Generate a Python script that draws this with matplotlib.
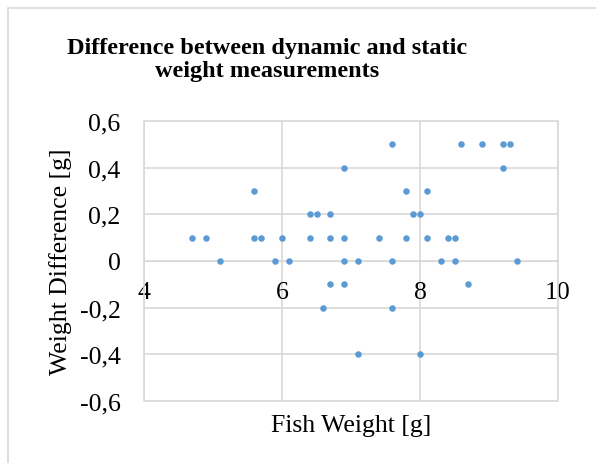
import matplotlib
matplotlib.use("Agg")
import matplotlib.pyplot as plt
from matplotlib.patches import Rectangle
from matplotlib.ticker import FuncFormatter

# data, grouped by difference value
fish_weight = [7.6, 8.6, 8.9, 9.2, 9.3,
               6.9, 9.2,
               5.6, 7.8, 8.1,
               6.4, 6.5, 6.7, 7.9, 8.0,
               4.7, 4.9, 5.6, 5.7, 6.0, 6.4, 6.7, 6.9, 7.4, 7.8, 8.1, 8.4, 8.5,
               5.1, 5.9, 6.1, 6.9, 7.1, 7.6, 8.3, 8.5, 9.4,
               6.7, 6.9, 8.7,
               6.6, 7.6,
               7.1, 8.0]
weight_diff = [0.5, 0.5, 0.5, 0.5, 0.5,
               0.4, 0.4,
               0.3, 0.3, 0.3,
               0.2, 0.2, 0.2, 0.2, 0.2,
               0.1, 0.1, 0.1, 0.1, 0.1, 0.1, 0.1, 0.1, 0.1, 0.1, 0.1, 0.1, 0.1,
               0, 0, 0, 0, 0, 0, 0, 0, 0,
               -0.1, -0.1, -0.1,
               -0.2, -0.2,
               -0.4, -0.4]
x_ticks = [4, 6, 8, 10]
y_ticks = [-0.6, -0.4, -0.2, 0, 0.2, 0.4, 0.6]

plt.rcParams['font.family'] = ['Liberation Serif', 'DejaVu Serif']
grid_col = '#d9d9d9'

fig = plt.figure(figsize=(5.96, 4.64), dpi=100)
# chart area border (only left/top visible in the crop)
fig.add_artist(Rectangle((8 / 596, -0.1), 1.2, 1 - 9 / 464 + 0.1,
                         transform=fig.transFigure, fill=False,
                         ec=grid_col, lw=1.2))

ax = fig.add_axes([144 / 596, 1 - 402 / 464, 414 / 596, 280 / 464])
ax.scatter(fish_weight, weight_diff, s=22, color='#5b9bd5', zorder=3,
           linewidths=0)

ax.set_xlim(4, 10)
ax.set_ylim(-0.6, 0.6)
ax.set_xticks(x_ticks)
ax.set_yticks(y_ticks)
ax.yaxis.set_major_formatter(FuncFormatter(
    lambda v, p: '0' if abs(v) < 1e-9 else ('%.1f' % v).replace('.', ',')))
ax.grid(True, color=grid_col, lw=1.2)
ax.set_axisbelow(True)

for s in ['top', 'right', 'left']:
    ax.spines[s].set_visible(False)
ax.spines['bottom'].set_position(('data', 0))
ax.spines['bottom'].set_color(grid_col)
ax.add_patch(Rectangle((0, 0), 1, 1, transform=ax.transAxes, fill=False,
                       ec=grid_col, lw=1.2, clip_on=False, zorder=1))

ax.tick_params(axis='x', length=0, pad=14.5, labelsize=18.5)
ax.tick_params(axis='y', length=0, pad=17, labelsize=18.5)

ax.set_xlabel('Fish Weight [g]', fontsize=18.5)
ax.xaxis.set_label_coords(0.5, -0.046)
ax.set_ylabel('Weight Difference [g]', fontsize=18.5)
ax.yaxis.set_label_coords(-0.174, 0.5)

fig.text(267 / 596, 1 - 60 / 464,
         'Difference between dynamic and static\nweight measurements',
         ha='center', va='center', fontsize=17.5, fontweight='bold',
         linespacing=1.12)

fig.savefig('out.png', dpi=100)
